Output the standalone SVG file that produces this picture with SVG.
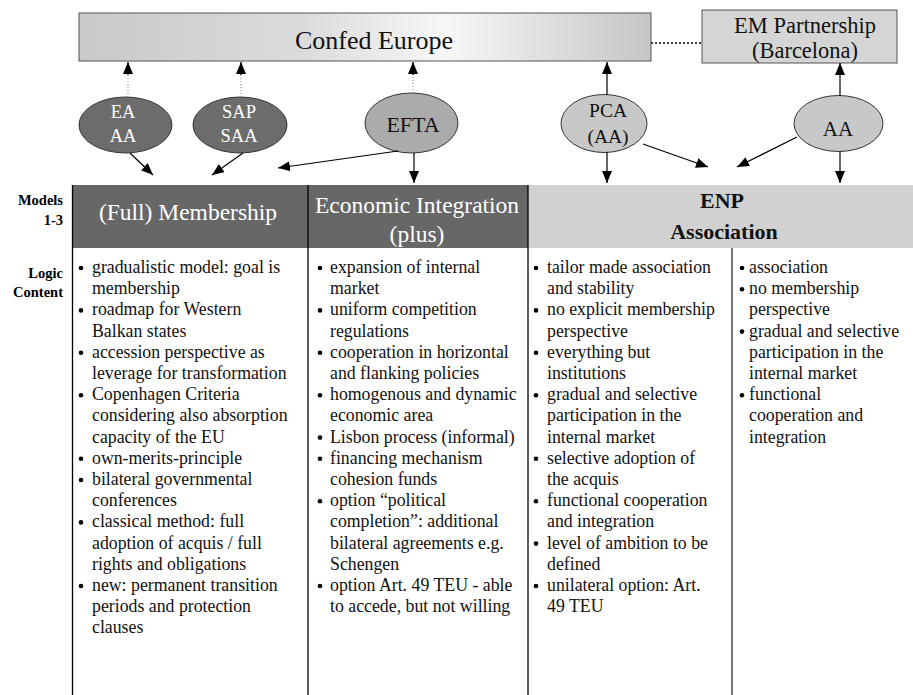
<svg xmlns="http://www.w3.org/2000/svg" width="913" height="695" viewBox="0 0 913 695">
<defs>
<linearGradient id="gConf" x1="0" y1="0" x2="1" y2="0">
<stop offset="0" stop-color="#c9c9c9"/>
<stop offset="0.4" stop-color="#dcdcdc"/>
<stop offset="0.64" stop-color="#f7f7f7"/>
<stop offset="1" stop-color="#c6c6c6"/>
</linearGradient>
<marker id="ah" viewBox="0 0 12 10" refX="12" refY="5" markerUnits="userSpaceOnUse" markerWidth="12" markerHeight="10" orient="auto">
<path d="M0,0 L12,5 L0,10 z" fill="#000"/>
</marker>
<style>
.sf{font-family:"Liberation Serif","DejaVu Serif",serif}
.box{stroke:#555;stroke-width:1}
.ell{stroke:#333;stroke-width:1}
.con{stroke:#000;stroke-width:1.2;fill:none}
.dot{stroke:#888;stroke-width:1;stroke-dasharray:1 2;fill:none}
.body{font-family:"Liberation Serif","DejaVu Serif",serif;font-size:17.8px;fill:#111}
.lbl{font-family:"Liberation Serif","DejaVu Serif",serif;font-size:14.5px;font-weight:bold;fill:#000;text-anchor:end}
.bul{fill:#000}
</style>
</defs>
<rect width="913" height="695" fill="#fff"/>

<g id="confed">
<rect class="box" x="79" y="13" width="572" height="48" fill="url(#gConf)"/>
<text class="sf" x="374" y="49" font-size="26" text-anchor="middle" fill="#111">Confed Europe</text>
</g>
<g id="em">
<rect class="box" x="702" y="10" width="195" height="53" fill="#d5d5d5"/>
<text class="sf" x="805" y="33" font-size="22.5" text-anchor="middle" fill="#111">EM Partnership</text>
<text class="sf" x="805" y="58" font-size="22.5" text-anchor="middle" fill="#111">(Barcelona)</text>
</g>

<g id="ea">
<ellipse class="ell" cx="125.5" cy="125" rx="46.5" ry="28" fill="#6c6c6c"/>
<text class="sf" x="123" y="118" font-size="18.5" text-anchor="middle" fill="#fff">EA</text>
<text class="sf" x="123" y="142" font-size="18.5" text-anchor="middle" fill="#fff">AA</text>
</g>
<g id="sap">
<ellipse class="ell" cx="240" cy="125" rx="47" ry="28" fill="#6c6c6c"/>
<text class="sf" x="239" y="118" font-size="18.5" text-anchor="middle" fill="#fff">SAP</text>
<text class="sf" x="239" y="142" font-size="18.5" text-anchor="middle" fill="#fff">SAA</text>
</g>
<g id="efta">
<ellipse class="ell" cx="411.5" cy="123" rx="46.5" ry="30" fill="#ababab"/>
<text class="sf" x="413" y="132" font-size="22" text-anchor="middle" fill="#111">EFTA</text>
</g>
<g id="pca">
<ellipse class="ell" cx="604" cy="123.5" rx="43" ry="29" fill="#c8c8c8"/>
<text class="sf" x="608" y="117" font-size="19.5" text-anchor="middle" fill="#111">PCA</text>
<text class="sf" x="608" y="143" font-size="19.5" text-anchor="middle" fill="#111">(AA)</text>
</g>
<g id="aa">
<ellipse class="ell" cx="838.5" cy="123.5" rx="44.5" ry="28" fill="#c8c8c8"/>
<text class="sf" x="838" y="136" font-size="21" text-anchor="middle" fill="#111">AA</text>
</g>

<g id="connectors">
<line class="dot" x1="128" y1="97" x2="128" y2="74"/>
<line class="con" x1="128" y1="75" x2="128" y2="62" marker-end="url(#ah)" stroke-width="0"/>
<line class="dot" x1="241" y1="97" x2="241" y2="74"/>
<line class="con" x1="241" y1="75" x2="241" y2="62" marker-end="url(#ah)" stroke-width="0"/>
<line class="dot" x1="413" y1="93" x2="413" y2="74"/>
<line class="con" x1="413" y1="75" x2="413" y2="62" marker-end="url(#ah)" stroke-width="0"/>
<line class="con" x1="607" y1="95" x2="607" y2="62" marker-end="url(#ah)"/>
<line class="con" x1="840" y1="96" x2="840" y2="63" marker-end="url(#ah)"/>
<line x1="651" y1="43" x2="702" y2="43" stroke="#000" stroke-width="1.5" stroke-dasharray="2 2"/>
<line class="con" x1="130" y1="153" x2="153" y2="175" marker-end="url(#ah)"/>
<line class="con" x1="243" y1="153" x2="212" y2="175" marker-end="url(#ah)"/>
<line class="con" x1="398" y1="151" x2="278" y2="168" marker-end="url(#ah)"/>
<line class="con" x1="414" y1="153" x2="414" y2="183" marker-end="url(#ah)"/>
<line class="con" x1="607" y1="152" x2="607" y2="183" marker-end="url(#ah)"/>
<line class="con" x1="643" y1="144" x2="708" y2="167" marker-end="url(#ah)"/>
<line class="con" x1="797" y1="137" x2="737" y2="167" marker-end="url(#ah)"/>
<line class="con" x1="840" y1="151" x2="840" y2="183" marker-end="url(#ah)"/>
</g>

<g id="labels">
<text class="lbl" x="63" y="205">Models</text>
<text class="lbl" x="63" y="225">1-3</text>
<text class="lbl" x="63" y="278">Logic</text>
<text class="lbl" x="63" y="297">Content</text>
</g>

<g id="headers">
<rect x="72" y="185" width="236" height="63" fill="#676767"/>
<rect x="308" y="185" width="220" height="63" fill="#676767"/>
<rect x="528" y="185" width="385" height="63" fill="#d1d1d1"/>
<text class="sf" x="188" y="220" font-size="23.5" text-anchor="middle" fill="#fff">(Full) Membership</text>
<text class="sf" x="417" y="213" font-size="23.5" text-anchor="middle" fill="#fff">Economic Integration</text>
<text class="sf" x="417" y="242" font-size="23.5" text-anchor="middle" fill="#fff">(plus)</text>
<text class="sf" x="722" y="208" font-size="22" font-weight="bold" text-anchor="middle" fill="#111">ENP</text>
<text class="sf" x="724" y="239" font-size="22" font-weight="bold" text-anchor="middle" fill="#111">Association</text>
</g>

<g id="grid">
<line x1="72.5" y1="185" x2="72.5" y2="695" stroke="#000" stroke-width="1.3"/>
<line x1="308" y1="185" x2="308" y2="695" stroke="#000" stroke-width="1.3"/>
<line x1="528" y1="185" x2="528" y2="695" stroke="#000" stroke-width="1.3"/>
<line x1="732" y1="248" x2="732" y2="695" stroke="#777" stroke-width="2"/>
</g>

<g id="col1">
<g class="bul">
<circle cx="81" cy="268" r="2.3"/><circle cx="81" cy="310.4" r="2.3"/><circle cx="81" cy="352.8" r="2.3"/><circle cx="81" cy="395.2" r="2.3"/><circle cx="81" cy="458.8" r="2.3"/><circle cx="81" cy="480" r="2.3"/><circle cx="81" cy="522.4" r="2.3"/><circle cx="81" cy="586" r="2.3"/>
</g>
<text class="body">
<tspan x="92" y="273">gradualistic model: goal is</tspan>
<tspan x="92" y="294.2">membership</tspan>
<tspan x="92" y="315.4">roadmap for Western</tspan>
<tspan x="92" y="336.6">Balkan states</tspan>
<tspan x="92" y="357.8">accession perspective as</tspan>
<tspan x="92" y="379">leverage for transformation</tspan>
<tspan x="92" y="400.2">Copenhagen Criteria</tspan>
<tspan x="92" y="421.4">considering also absorption</tspan>
<tspan x="92" y="442.6">capacity of the EU</tspan>
<tspan x="92" y="463.8">own-merits-principle</tspan>
<tspan x="92" y="485">bilateral governmental</tspan>
<tspan x="92" y="506.2">conferences</tspan>
<tspan x="92" y="527.4">classical method: full</tspan>
<tspan x="92" y="548.6">adoption of acquis / full</tspan>
<tspan x="92" y="569.8">rights and obligations</tspan>
<tspan x="92" y="591">new: permanent transition</tspan>
<tspan x="92" y="612.2">periods and protection</tspan>
<tspan x="92" y="633.4">clauses</tspan>
</text>
</g>

<g id="col2">
<g class="bul">
<circle cx="320" cy="268" r="2.3"/><circle cx="320" cy="310.4" r="2.3"/><circle cx="320" cy="352.8" r="2.3"/><circle cx="320" cy="395.2" r="2.3"/><circle cx="320" cy="437.6" r="2.3"/><circle cx="320" cy="458.8" r="2.3"/><circle cx="320" cy="501.2" r="2.3"/><circle cx="320" cy="586" r="2.3"/>
</g>
<text class="body">
<tspan x="330" y="273">expansion of internal</tspan>
<tspan x="330" y="294.2">market</tspan>
<tspan x="330" y="315.4">uniform competition</tspan>
<tspan x="330" y="336.6">regulations</tspan>
<tspan x="330" y="357.8">cooperation in horizontal</tspan>
<tspan x="330" y="379">and flanking policies</tspan>
<tspan x="330" y="400.2">homogenous and dynamic</tspan>
<tspan x="330" y="421.4">economic area</tspan>
<tspan x="330" y="442.6">Lisbon process (informal)</tspan>
<tspan x="330" y="463.8">financing mechanism</tspan>
<tspan x="330" y="485">cohesion funds</tspan>
<tspan x="330" y="506.2">option “political</tspan>
<tspan x="330" y="527.4">completion”: additional</tspan>
<tspan x="330" y="548.6">bilateral agreements e.g.</tspan>
<tspan x="330" y="569.8">Schengen</tspan>
<tspan x="330" y="591">option Art. 49 TEU - able</tspan>
<tspan x="330" y="612.2">to accede, but not willing</tspan>
</text>
</g>

<g id="col3">
<g class="bul">
<circle cx="536" cy="268" r="2.3"/><circle cx="536" cy="310.4" r="2.3"/><circle cx="536" cy="352.8" r="2.3"/><circle cx="536" cy="395.2" r="2.3"/><circle cx="536" cy="458.8" r="2.3"/><circle cx="536" cy="501.2" r="2.3"/><circle cx="536" cy="543.6" r="2.3"/><circle cx="536" cy="586" r="2.3"/>
</g>
<text class="body">
<tspan x="547" y="273">tailor made association</tspan>
<tspan x="547" y="294.2">and stability</tspan>
<tspan x="547" y="315.4">no explicit membership</tspan>
<tspan x="547" y="336.6">perspective</tspan>
<tspan x="547" y="357.8">everything but</tspan>
<tspan x="547" y="379">institutions</tspan>
<tspan x="547" y="400.2">gradual and selective</tspan>
<tspan x="547" y="421.4">participation in the</tspan>
<tspan x="547" y="442.6">internal market</tspan>
<tspan x="547" y="463.8">selective adoption of</tspan>
<tspan x="547" y="485">the acquis</tspan>
<tspan x="547" y="506.2">functional cooperation</tspan>
<tspan x="547" y="527.4">and integration</tspan>
<tspan x="547" y="548.6">level of ambition to be</tspan>
<tspan x="547" y="569.8">defined</tspan>
<tspan x="547" y="591">unilateral option: Art.</tspan>
<tspan x="547" y="612.2">49 TEU</tspan>
</text>
</g>

<g id="col4">
<g class="bul">
<circle cx="742" cy="268" r="2.3"/><circle cx="742" cy="289.2" r="2.3"/><circle cx="742" cy="331.6" r="2.3"/><circle cx="742" cy="395.2" r="2.3"/>
</g>
<text class="body">
<tspan x="749" y="273">association</tspan>
<tspan x="749" y="294.2">no membership</tspan>
<tspan x="749" y="315.4">perspective</tspan>
<tspan x="749" y="336.6">gradual and selective</tspan>
<tspan x="749" y="357.8">participation in the</tspan>
<tspan x="749" y="379">internal market</tspan>
<tspan x="749" y="400.2">functional</tspan>
<tspan x="749" y="421.4">cooperation and</tspan>
<tspan x="749" y="442.6">integration</tspan>
</text>
</g>
</svg>
